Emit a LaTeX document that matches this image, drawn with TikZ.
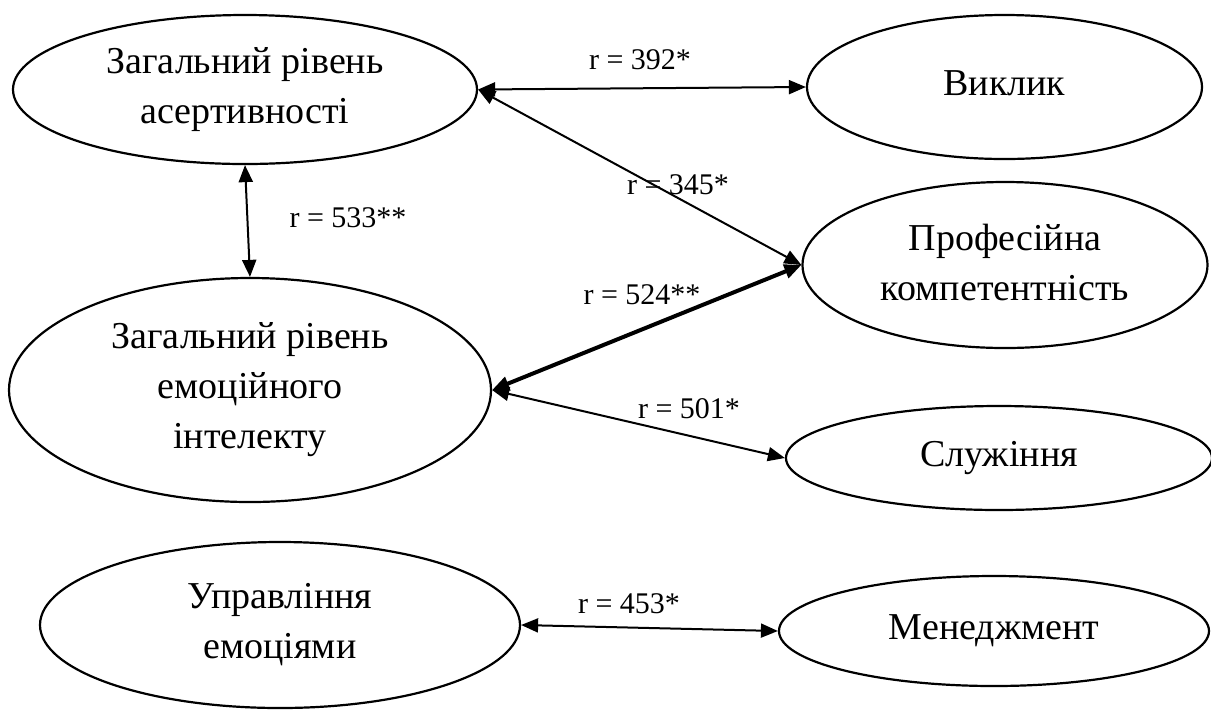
\documentclass[tikz,border=0pt]{standalone}
\usepackage{fontspec}
\setmainfont{Liberation Serif}
\usetikzlibrary{shapes.geometric,arrows.meta}
\begin{document}
\begin{tikzpicture}[x=0.5pt,y=-0.5pt,
  >={Triangle[length=8.5pt,width=7pt]},
  ell/.style={ellipse,draw,line width=1.1pt,inner sep=0pt,align=center,font=\fontsize{19}{25}\selectfont},
  lab/.style={font=\fontsize{15}{17}\selectfont,inner sep=0pt},
  conn/.style={line width=1pt,<->},
  thickconn/.style={line width=2pt,<->}
  ]
\useasboundingbox (0,0) rectangle (1211,709);
\node[ell,minimum width=232pt,minimum height=74.5pt] (A) at (245,89.5) {Загальний рівень\\асертивності};
\node[ell,minimum width=197.5pt,minimum height=72pt] (B) at (1004.5,87) {\raisebox{4pt}{Виклик}};
\node[ell,minimum width=202.5pt,minimum height=83pt] (C) at (1005,265) {\raisebox{3pt}{\begin{tabular}{@{}c@{}}Професійна\\компетентність\end{tabular}}};
\node[ell,minimum width=241pt,minimum height=112pt] (D) at (250,390) {Загальний рівень\\емоційного\\інтелекту};
\node[ell,minimum width=213pt,minimum height=52pt] (E) at (999,458) {\raisebox{3pt}{Служіння}};
\node[ell,minimum width=240pt,minimum height=83pt] (F) at (280,625) {Управління\\емоціями};
\node[ell,minimum width=215pt,minimum height=55pt] (G) at (994,631) {Менеджмент};

\draw[conn] (A.east) -- (B.west);
\draw[conn] (A.east) -- (C.west);
\draw[conn] (A.south) -- (D.north);
\draw[thickconn] (D.east) -- (C.west);
\draw[conn] (D.east) -- (E.west);
\draw[conn] (F.east) -- (G.west);

\node[lab] (l1) at (640,60) {r = 392*};
\node[lab] (l2) at (678,185) {r = 345*};
\node[lab] (l3) at (348,218) {r = 533**};
\node[lab] (l4) at (642,295) {r = 524**};
\node[lab] (l5) at (689,409) {r = 501*};
\node[lab] (l6) at (629,604) {r = 453*};
\end{tikzpicture}
\end{document}
